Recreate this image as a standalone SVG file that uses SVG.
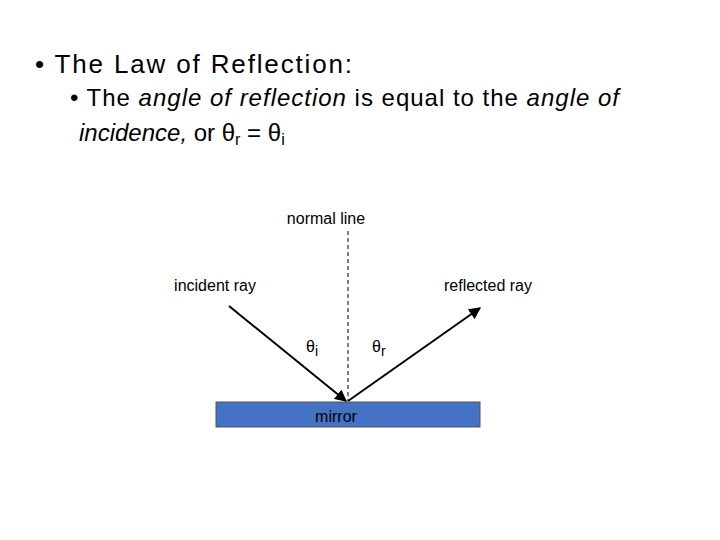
<svg xmlns="http://www.w3.org/2000/svg" width="720" height="540" viewBox="0 0 720 540">
<style>
.t{font-family:"Liberation Sans",Arial,sans-serif;fill:#000}
.s{font-family:"Liberation Sans",Arial,sans-serif;font-size:16px;fill:#000}
.ray{stroke:#000;stroke-width:2;fill:none;marker-end:url(#ah)}
</style>
<defs><marker id="ah" viewBox="0 0 10 10" refX="9" refY="5" markerWidth="6" markerHeight="6" orient="auto"><path d="M0,0L10,5L0,10z" fill="#000"/></marker></defs>
<rect width="720" height="540" fill="#fff"/>
<text class="t" x="35" y="73" font-size="26" textLength="317">• The Law of Reflection:</text>
<text class="t" x="70" y="106" font-size="24" textLength="549">• The <tspan font-style="italic">angle of reflection</tspan> is equal to the <tspan font-style="italic">angle of</tspan></text>
<text class="t" x="79" y="141" font-size="24"><tspan font-style="italic">incidence,</tspan> or θ<tspan font-size="16" dy="4">r</tspan><tspan dy="-4"> = θ</tspan><tspan font-size="16" dy="4">i</tspan></text>
<g id="mirror"><rect x="216" y="402" width="264" height="25" fill="#4472C4" stroke="#555" stroke-width="1"/><text class="s" x="336" y="422" text-anchor="middle">mirror</text></g>
<g id="labels">
<text class="s" x="326" y="224" text-anchor="middle">normal line</text>
<text class="s" x="215" y="291" text-anchor="middle">incident ray</text>
<text class="s" x="488" y="291" text-anchor="middle">reflected ray</text>
<text class="s" x="306" y="352" font-size="20">θ<tspan font-size="14" dy="4">i</tspan></text>
<text class="s" x="372" y="352" font-size="20">θ<tspan font-size="14" dy="4">r</tspan></text>
</g>
<g id="connectors">
<line x1="348" y1="231" x2="348" y2="401" stroke="#000" stroke-width="1" stroke-dasharray="4,3"/>
<line class="ray" x1="229" y1="306" x2="346" y2="401"/>
<line class="ray" x1="348" y1="401" x2="480" y2="308"/>
</g>
</svg>
